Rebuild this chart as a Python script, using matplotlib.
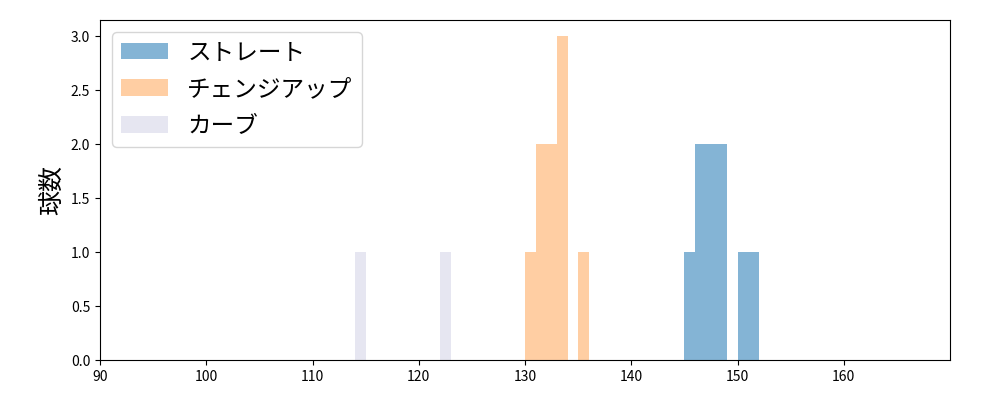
import numpy as np
import matplotlib
matplotlib.use('Agg')
import matplotlib.pyplot as plt

plt.rcParams['font.family'] = ['Noto Sans CJK JP', 'DejaVu Sans']

# pitch speeds (km/h), one entry per pitch
straight = [145, 146, 146, 147, 147, 148, 148, 150, 151]
changeup = [130, 131, 131, 132, 132, 133, 133, 133, 135]
curve = [114, 122]
labels = ['ストレート', 'チェンジアップ', 'カーブ']
colors = ['#1f77b4', '#ff7f0e', '#c8c8e0']
alphas = [0.55, 0.38, 0.45]

bins = np.arange(90, 171, 1)

fig, ax = plt.subplots(figsize=(10, 4), dpi=100)
fig.subplots_adjust(left=0.1, right=0.95, top=0.95, bottom=0.1)

for data, lab, c, a in zip([straight, changeup, curve], labels, colors, alphas):
    ax.hist(np.array(data) + 0.5, bins=bins, color=c, alpha=a, label=lab)

ax.set_xlim(90, 170)
ax.set_ylim(0, 3.15)
ax.set_xticks(np.arange(90, 170, 10))
ax.set_yticks(np.arange(0, 3.01, 0.5))
ax.set_ylabel('球数', fontsize=18)
ax.tick_params(labelsize=10)
ax.legend(loc='upper left', fontsize=17, labelspacing=0.58)

plt.savefig('out.png')
